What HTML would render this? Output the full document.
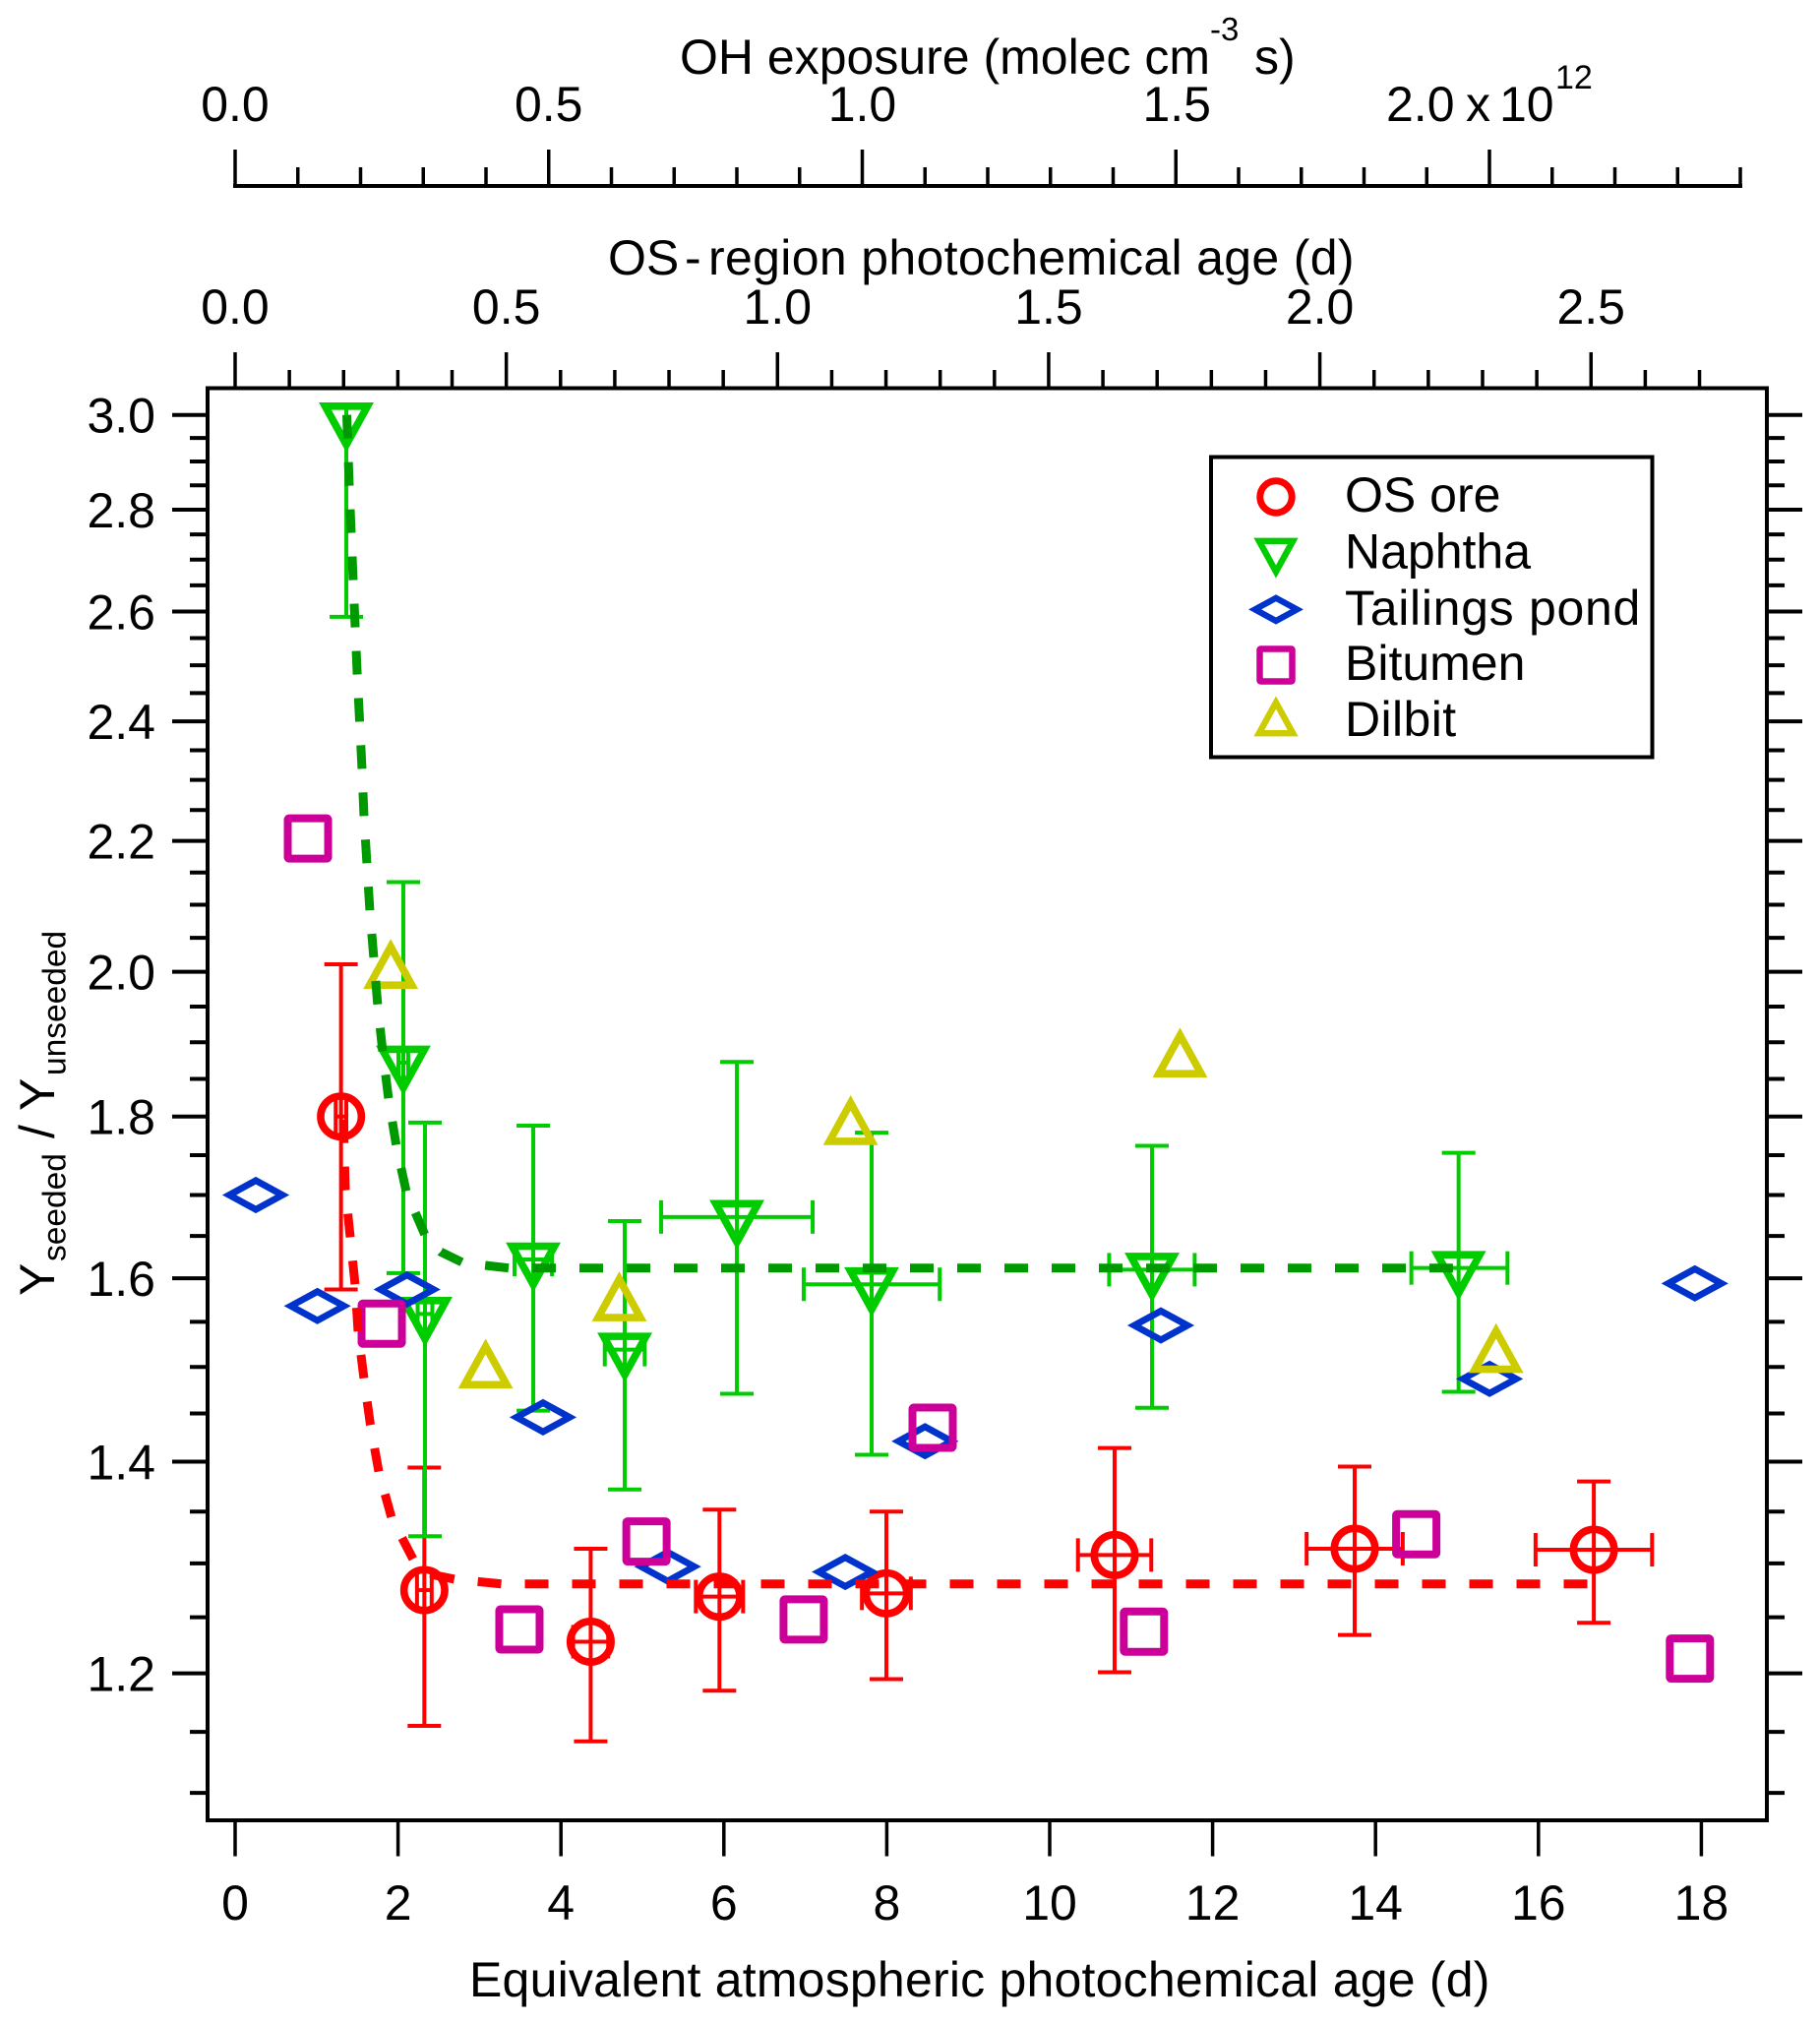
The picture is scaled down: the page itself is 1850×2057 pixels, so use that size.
<!DOCTYPE html>
<html lang="en">
<head>
<meta charset="utf-8">
<title>Yseeded / Yunseeded vs photochemical age</title>
<style>
html,body{margin:0;padding:0;background:#fff;}
svg{display:block;}
text{font-family:"Liberation Sans",Arial,sans-serif;fill:#000;font-size:50px;}
</style>
</head>
<body>
<svg id="chart" width="1850" height="2057" viewBox="0 0 1850 2057" xmlns="http://www.w3.org/2000/svg">
  <rect x="0" y="0" width="1850" height="2057" fill="#ffffff"/>

  <text y="75"><tspan x="691">OH exposure (molec cm</tspan><tspan x="1230" y="41" style="font-size:33px">-3</tspan><tspan x="1275" y="75">s)</tspan></text>
  <text y="123"><tspan x="1409">2.0</tspan><tspan x="1490">x</tspan><tspan x="1524">10</tspan><tspan x="1581" y="90" style="font-size:34px">12</tspan></text>

  <text y="279"><tspan x="618">OS</tspan><tspan x="696">-</tspan><tspan x="720" style="letter-spacing:0.33px">region photochemical age (d)</tspan></text>

  <text x="477" y="2029" style="letter-spacing:0.21px">Equivalent atmospheric photochemical age (d)</text>

  <g transform="translate(55,1317) rotate(-90)">
    <text x="0" y="0">Y</text>
    <text x="35" y="11.7" style="font-size:33.5px">seeded</text>
    <text x="160" y="0">/</text>
    <text x="188" y="0">Y</text>
    <text x="224" y="11.7" style="font-size:33.5px">unseeded</text>
  </g>

  <g id="axes"></g>
  <rect x="211" y="394.5" width="1585" height="1455.5" fill="none" stroke="#000" stroke-width="4"/>
  <g id="marks"></g>

  <g>
    <rect x="1231" y="464.5" width="448.5" height="305" fill="#fff" stroke="#000" stroke-width="4"/>
    <g>
      <circle cx="1297" cy="505" r="16.2" fill="none" stroke="#ff0000" stroke-width="7"/>
      <text x="1367" y="520">OS ore</text>
    </g>
    <g>
      <polygon transform="translate(1297,560.6) scale(0.8)" points="-21.5,-13.5 21.5,-13.5 0,25.5" fill="none" stroke="#00cc00" stroke-width="8"/>
      <text x="1367" y="577.5">Naphtha</text>
    </g>
    <g>
      <polygon transform="translate(1297,619.4) scale(0.79)" points="-27,0 0,-14.7 27,0 0,14.7" fill="none" stroke="#0033cc" stroke-width="8"/>
      <text x="1367" y="635" style="letter-spacing:0.7px">Tailings pond</text>
    </g>
    <g>
      <rect x="1280.5" y="659.5" width="33" height="33" rx="1" fill="none" stroke="#cc0099" stroke-width="6.5"/>
      <text x="1367" y="691">Bitumen</text>
    </g>
    <g>
      <polygon transform="translate(1297,734.4) scale(0.8)" points="-21.5,13.5 21.5,13.5 0,-25.5" fill="none" stroke="#cccc00" stroke-width="8"/>
      <text x="1367" y="748" style="letter-spacing:0.4px">Dilbit</text>
    </g>
  </g>
</svg>

<script>
// Axis ticks and labels
const xTicks = [0, 2, 4, 6, 8, 10, 12, 14, 16, 18];
const yMajorTicks = [3.0, 2.8, 2.6, 2.4, 2.2, 2.0, 1.8, 1.6, 1.4, 1.2];
const yMinorTicks = [2.95, 2.9, 2.85, 2.75, 2.7, 2.65, 2.55, 2.5, 2.45, 2.35, 2.3, 2.25, 2.15, 2.1, 2.05, 1.95, 1.9, 1.85, 1.75, 1.7, 1.65, 1.55, 1.5, 1.45, 1.35, 1.3, 1.25, 1.15, 1.1];
const osMajorTicks = [0, 0.5, 1.0, 1.5, 2.0, 2.5];
const osMinorTicks = [0.1, 0.2, 0.3, 0.4, 0.6, 0.7, 0.8, 0.9, 1.1, 1.2, 1.3, 1.4, 1.6, 1.7, 1.8, 1.9, 2.1, 2.2, 2.3, 2.4, 2.6, 2.7];
const ohMajorTicks = [0, 0.5, 1.0, 1.5, 2.0];
const ohLabelledTicks = [0, 0.5, 1.0, 1.5];
const ohMinorTicks = [0.1, 0.2, 0.3, 0.4, 0.6, 0.7, 0.8, 0.9, 1.1, 1.2, 1.3, 1.4, 1.6, 1.7, 1.8, 1.9, 2.1, 2.2, 2.3, 2.4];

// OS ore
const oreX = [1.30, 2.323, 4.365, 5.946, 7.995, 10.797, 13.744, 16.68];
const oreY = [1.80, 1.275, 1.228, 1.269, 1.272, 1.308, 1.314, 1.313];
const oreYLow = [1.587, 1.155, 1.142, 1.185, 1.195, 1.201, 1.234, 1.245];
const oreYHigh = [2.011, 1.394, 1.314, 1.352, 1.35, 1.414, 1.395, 1.380];
const oreXLow = [1.235, 2.233, 4.15, 5.656, 7.695, 10.347, 13.154, 15.965];
const oreXHigh = [1.365, 2.413, 4.58, 6.236, 8.295, 11.247, 14.334, 17.395];

// Naphtha
const naphthaX = [1.365, 2.065, 2.331, 3.66, 4.783, 6.16, 7.814, 11.256, 15.02];
const naphthaY = [2.99, 1.872, 1.559, 1.622, 1.519, 1.673, 1.593, 1.61, 1.612];
const naphthaYLow = [2.59, 1.606, 1.326, 1.453, 1.372, 1.471, 1.407, 1.456, 1.473];
const naphthaYHigh = [3.02, 2.135, 1.792, 1.788, 1.668, 1.873, 1.779, 1.762, 1.753];
const naphthaXLow = [1.365, 2.005, 2.241, 3.43, 4.538, 5.23, 6.98, 10.73, 14.44];
const naphthaXHigh = [1.365, 2.125, 2.421, 3.89, 5.028, 7.09, 8.65, 11.78, 15.62];

// Tailings pond
const tailingsX = [0.254, 1.01, 2.11, 3.78, 5.31, 7.49, 8.47, 11.365, 15.4, 17.92];
const tailingsY = [1.70, 1.568, 1.587, 1.446, 1.297, 1.292, 1.421, 1.546, 1.487, 1.594];

// Bitumen
const bitumenX = [0.894, 1.80, 3.49, 5.05, 6.98, 8.563, 11.157, 14.5, 17.86];
const bitumenY = [2.204, 1.548, 1.239, 1.321, 1.248, 1.435, 1.237, 1.328, 1.213];

// Dilbit
const dilbitX = [1.91, 3.075, 4.716, 7.556, 11.6, 15.48];
const dilbitY = [2.0, 1.495, 1.57, 1.785, 1.875, 1.512];

// Dashed fit curves
const naphthaFitX = [1.371, 1.401, 1.449, 1.498, 1.558, 1.582, 1.655, 1.751, 1.812, 1.884, 1.981, 2.101, 2.331, 2.524, 2.802, 3.357, 14.95];
const naphthaFitY = [3.0, 2.849, 2.659, 2.488, 2.318, 2.239, 2.090, 1.951, 1.887, 1.823, 1.761, 1.704, 1.651, 1.631, 1.618, 1.612, 1.612];
const oreFitX = [1.329, 1.353, 1.413, 1.473, 1.51, 1.582, 1.661, 1.763, 1.92, 2.192, 2.447, 2.70, 3.273, 16.6];
const oreFitY = [1.80, 1.707, 1.649, 1.592, 1.539, 1.487, 1.438, 1.390, 1.344, 1.303, 1.289, 1.285, 1.2807, 1.2807];

// Axis functions
function sx(v) { return 239 + 82.8 * v; }
function sy(v) { return 421.7 + 1395.8 * Math.log(3 / v); }
function osx(v) { return 239 + 551.3 * v; }
function ohx(v) { return 239 + 637.5 * v; }

const NS = 'http://www.w3.org/2000/svg';
const axesGroup = document.getElementById('axes');
const marksGroup = document.getElementById('marks');

function make(tag, attrs, parent) {
  const el = document.createElementNS(NS, tag);
  for (const k in attrs) el.setAttribute(k, attrs[k]);
  parent.appendChild(el);
  return el;
}
function seg(x1, y1, x2, y2, color, width, parent) {
  return make('line', { x1: x1, y1: y1, x2: x2, y2: y2, stroke: color, 'stroke-width': width }, parent);
}

// Bottom x axis
xTicks.forEach(function (v) {
  const t = seg(sx(v), 1850, sx(v), 1886.5, '#000', 3.5, axesGroup);
  
  
  const l = make('text', { x: sx(v), y: 1951, 'text-anchor': 'middle' }, axesGroup);
  l.textContent = String(v);
  
  
});

// Left and right y axis
yMajorTicks.forEach(function (v) {
  const t = seg(175, sy(v), 211, sy(v), '#000', 4, axesGroup);
  
  
  const r = seg(1796, sy(v), 1832, sy(v), '#000', 4, axesGroup);
  
  
  const l = make('text', { x: 158, y: sy(v) + 18, 'text-anchor': 'end' }, axesGroup);
  l.textContent = v.toFixed(1);
  
  
});
yMinorTicks.forEach(function (v) {
  const t = seg(193, sy(v), 211, sy(v), '#000', 4, axesGroup);
  
  
  const r = seg(1796, sy(v), 1814, sy(v), '#000', 4, axesGroup);
  
  
});

// OS-region age axis
osMajorTicks.forEach(function (v) {
  const t = seg(osx(v), 358, osx(v), 394.5, '#000', 3.5, axesGroup);
  
  
  const l = make('text', { x: osx(v), y: 329, 'text-anchor': 'middle' }, axesGroup);
  l.textContent = v.toFixed(1);
  
  
});
osMinorTicks.forEach(function (v) {
  const t = seg(osx(v), 376, osx(v), 394.5, '#000', 3.5, axesGroup);
  
  
});

// OH exposure axis
const ohLine = seg(ohx(0) - 2, 189, ohx(2.4) + 2, 189, '#000', 4, axesGroup);


ohMajorTicks.forEach(function (v) {
  const t = seg(ohx(v), 152, ohx(v), 189, '#000', 3.5, axesGroup);
  
  
});
ohLabelledTicks.forEach(function (v) {
  const l = make('text', { x: ohx(v) + (v === 1.5 ? 1 : 0), y: 123, 'text-anchor': 'middle' }, axesGroup);
  l.textContent = v.toFixed(1);
  
  
});
ohMinorTicks.forEach(function (v) {
  const t = seg(ohx(v), 170, ohx(v), 189, '#000', 3.5, axesGroup);
  
  
});

// Markers
function drawMarker(kind, px, py, color, parent) {
  const common = { fill: 'none', stroke: color };
  let el;
  if (kind === 'circle') {
    el = make('circle', Object.assign({ cx: px, cy: py, r: 20.7, 'stroke-width': 7.6 }, common), parent);
  } else if (kind === 'down') {
    el = make('polygon', Object.assign({ transform: 'translate(' + px + ',' + py + ')', points: '-21.5,-13.5 21.5,-13.5 0,25.5', 'stroke-width': 7.6 }, common), parent);
  } else if (kind === 'up') {
    el = make('polygon', Object.assign({ transform: 'translate(' + px + ',' + py + ')', points: '-21.5,13.5 21.5,13.5 0,-25.5', 'stroke-width': 7.6 }, common), parent);
  } else if (kind === 'diamond') {
    el = make('polygon', Object.assign({ transform: 'translate(' + px + ',' + py + ')', points: '-27,0 0,-14.7 27,0 0,14.7', 'stroke-width': 6.8 }, common), parent);
  } else {
    el = make('rect', Object.assign({ x: px - 20.5, y: py - 20.5, width: 41, height: 41, rx: 1.5, 'stroke-width': 8 }, common), parent);
  }
  return el;
}

function drawErrors(i, xs, ys, yLow, yHigh, xLow, xHigh, color, parent) {
  const cap = 17;
  const px = sx(xs[i]);
  const py = sy(ys[i]);
  const v = seg(px, sy(yHigh[i]), px, sy(yLow[i]), color, 4, parent);
  
  
  const c1 = seg(px - cap, sy(yHigh[i]), px + cap, sy(yHigh[i]), color, 4, parent);
  
  
  const c2 = seg(px - cap, sy(yLow[i]), px + cap, sy(yLow[i]), color, 4, parent);
  
  
  if (xHigh[i] > xLow[i]) {
    const h = seg(sx(xLow[i]), py, sx(xHigh[i]), py, color, 4, parent);
    
    
    const c3 = seg(sx(xLow[i]), py - cap, sx(xLow[i]), py + cap, color, 4, parent);
    
    
    const c4 = seg(sx(xHigh[i]), py - cap, sx(xHigh[i]), py + cap, color, 4, parent);
    
    
  }
}

// OS ore series
const oreGroup = make('g', {}, marksGroup);


oreX.forEach(function (x, i) {
  drawErrors(i, oreX, oreY, oreYLow, oreYHigh, oreXLow, oreXHigh, '#ff0000', oreGroup);
  const m = drawMarker('circle', sx(x), sy(oreY[i]), '#ff0000', oreGroup);
  
  
});

// Naphtha series
const naphthaGroup = make('g', {}, marksGroup);


naphthaX.forEach(function (x, i) {
  drawErrors(i, naphthaX, naphthaY, naphthaYLow, naphthaYHigh, naphthaXLow, naphthaXHigh, '#00cc00', naphthaGroup);
  const m = drawMarker('down', sx(x), sy(naphthaY[i]), '#00cc00', naphthaGroup);
  
  
});

// Tailings pond series
const tailingsGroup = make('g', {}, marksGroup);


tailingsX.forEach(function (x, i) {
  const m = drawMarker('diamond', sx(x), sy(tailingsY[i]), '#0033cc', tailingsGroup);
  
  
});

// Bitumen series
const bitumenGroup = make('g', {}, marksGroup);


bitumenX.forEach(function (x, i) {
  const m = drawMarker('square', sx(x), sy(bitumenY[i]), '#cc0099', bitumenGroup);
  
  
});

// Dilbit series
const dilbitGroup = make('g', {}, marksGroup);


dilbitX.forEach(function (x, i) {
  const m = drawMarker('up', sx(x), sy(dilbitY[i]), '#cccc00', dilbitGroup);
  
  
});

// Dashed fits
function fitPoints(xs, ys) {
  return xs.map(function (x, i) { return sx(x).toFixed(1) + ',' + sy(ys[i]).toFixed(1); }).join(' ');
}
const naphthaFit = make('polyline', { points: fitPoints(naphthaFitX, naphthaFitY), fill: 'none', stroke: '#009900', 'stroke-width': 9, 'stroke-dasharray': '24 24' }, marksGroup);


const oreFit = make('polyline', { points: fitPoints(oreFitX, oreFitY), fill: 'none', stroke: '#ff0000', 'stroke-width': 9, 'stroke-dasharray': '24 24', 'stroke-dashoffset': -3 }, marksGroup);


</script>
</body>
</html>
